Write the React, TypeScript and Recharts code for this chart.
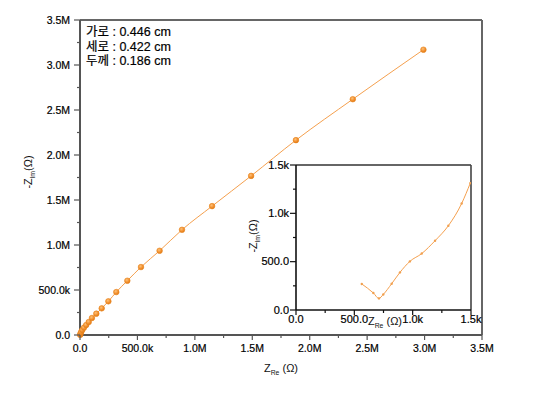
import React from 'react';
import { LineChart, Line, XAxis, YAxis, ReferenceLine } from 'recharts';

// main Nyquist data (Ω)
const mainRe = [1500, 4000, 10000, 20000, 35000, 54000, 76000, 104000, 142000, 189000, 247000, 316000, 412000, 531000, 693000, 888000, 1150000, 1490000, 1880000, 2375000, 2990000];
const mainIm = [1300, 15000, 34000, 56000, 82000, 111000, 144000, 189000, 237000, 296000, 374000, 477000, 603000, 755000, 936000, 1169000, 1432000, 1768000, 2165000, 2620000, 3170000];

// inset (low impedance region)
const insetRe = [564, 663, 711, 748, 820, 891, 976, 1078, 1192, 1306, 1420, 1494];
const insetIm = [269, 176, 120, 161, 272, 389, 503, 584, 717, 872, 1102, 1313];

const mainMajor = [0, 500000, 1000000, 1500000, 2000000, 2500000, 3000000, 3500000];
const mainMajorLabels = ['0.0', '500.0k', '1.0M', '1.5M', '2.0M', '2.5M', '3.0M', '3.5M'];
const mainMinor = [250000, 750000, 1250000, 1750000, 2250000, 2750000, 3250000];

const insetMajor = [0, 500, 1000, 1500];
const insetMajorLabels = ['0.0', '500.0', '1.0k', '1.5k'];
const insetMinor = [250, 750, 1250];

const notes = ['가로 : 0.446 cm', '세로 : 0.422 cm', '두께 : 0.186 cm'];

const mainData = mainRe.map((x, i) => ({ x, y: mainIm[i] }));
const insetData = insetRe.map((x, i) => ({ x, y: insetIm[i] }));

const FONT = '"Liberation Sans", Arial, sans-serif';
const ORANGE = '#F5A04E';

const makeXTick = (majors: number[], labels: string[], color: string, fontSize: number, gap: number) =>
  (props: any) => {
    const { x, y, payload } = props;
    const idx = majors.indexOf(payload.value);
    const major = idx >= 0;
    return (
      <g>
        <line x1={x} y1={y} x2={x} y2={y + (major ? 5 : 3)} stroke={color} strokeWidth={1.2} />
        {major && (
          <text x={x} y={y + gap} textAnchor="middle" fontSize={fontSize} fontFamily={FONT} fill="#000" stroke="#000" strokeWidth={0.2}>
            {labels[idx]}
          </text>
        )}
      </g>
    );
  };

const makeYTick = (majors: number[], labels: string[], color: string, fontSize: number, gap: number) =>
  (props: any) => {
    const { x, y, payload } = props;
    const idx = majors.indexOf(payload.value);
    const major = idx >= 0;
    return (
      <g>
        <line x1={x} y1={y} x2={x - (major ? 6 : 3)} y2={y} stroke={color} strokeWidth={1.2} />
        {major && (
          <text x={x - gap} y={y + 3.6} textAnchor="end" fontSize={fontSize} fontFamily={FONT} fill="#000" stroke="#000" strokeWidth={0.2}>
            {labels[idx]}
          </text>
        )}
      </g>
    );
  };

const AxisTitle = ({ main, sub, tail, left, top, rotate, size }: any) => (
  <div
    style={{
      position: 'absolute',
      left,
      top,
      transform: `translate(-50%, -50%)${rotate ? ' rotate(-90deg)' : ''}`,
      whiteSpace: 'nowrap',
      fontFamily: FONT,
      fontSize: size,
      color: '#111',
      lineHeight: 1,
    }}
  >
    {main}
    <sub style={{ fontSize: size * 0.62 }}>{sub}</sub>
    {tail}
  </div>
);

export default function App() {
  return (
    <div style={{ position: 'absolute', left: 0, top: 0, width: 533, height: 396, background: '#fff' }}>
      <svg width={0} height={0} style={{ position: 'absolute' }}>
        <defs>
          <radialGradient id="ball" cx="40%" cy="35%" r="65%">
            <stop offset="0%" stopColor="#FCC27A" />
            <stop offset="60%" stopColor="#F39130" />
            <stop offset="100%" stopColor="#E07A14" />
          </radialGradient>
        </defs>
      </svg>
      <LineChart width={533} height={396} data={mainData} margin={{ top: 20, right: 51, left: 0, bottom: 0 }}>
        <XAxis
          type="number"
          dataKey="x"
          domain={[0, 3500000]}
          ticks={[...mainMajor, ...mainMinor].sort((a, b) => a - b)}
          height={61}
          tickSize={0}
          tickMargin={0}
          tickLine={false}
          axisLine={{ stroke: '#555', strokeWidth: 2 }}
          tick={makeXTick(mainMajor, mainMajorLabels, '#555', 10.5, 17)}
          interval={0}
        />
        <YAxis
          type="number"
          dataKey="y"
          domain={[0, 3500000]}
          ticks={[...mainMajor, ...mainMinor].sort((a, b) => a - b)}
          width={80}
          tickSize={0}
          tickMargin={0}
          tickLine={false}
          axisLine={{ stroke: '#555', strokeWidth: 2 }}
          tick={makeYTick(mainMajor, mainMajorLabels, '#555', 10.5, 10)}
          interval={0}
        />
        <ReferenceLine y={3500000} stroke="#666" strokeWidth={2} />
        <ReferenceLine x={3500000} stroke="#666" strokeWidth={2} />
        <Line
          type="monotone"
          dataKey="y"
          stroke={ORANGE}
          strokeWidth={1}
          dot={{ r: 2.8, fill: 'url(#ball)', stroke: '#E8841E', strokeWidth: 0.6 }}
          isAnimationActive={false}
        />
      </LineChart>

      <div style={{ position: 'absolute', left: 240, top: 155 }}>
        <LineChart width={250} height={185} data={insetData} margin={{ top: 10, right: 19, left: 0, bottom: 0 }}>
          <XAxis
            type="number"
            dataKey="x"
            domain={[0, 1500]}
            allowDataOverflow
            ticks={[...insetMajor, ...insetMinor].sort((a, b) => a - b)}
            height={30}
            tickSize={0}
            tickMargin={0}
            tickLine={false}
            axisLine={{ stroke: '#111', strokeWidth: 1.6 }}
            tick={makeXTick(insetMajor, insetMajorLabels, '#111', 11, 13)}
            interval={0}
          />
          <YAxis
            type="number"
            dataKey="y"
            domain={[0, 1500]}
            allowDataOverflow
            ticks={[...insetMajor, ...insetMinor].sort((a, b) => a - b)}
            width={56}
            tickSize={0}
            tickMargin={0}
            tickLine={false}
            axisLine={{ stroke: '#111', strokeWidth: 1.6 }}
            tick={makeYTick(insetMajor, insetMajorLabels, '#111', 11, 7)}
            interval={0}
          />
          <ReferenceLine y={1500} stroke="#666" strokeWidth={2} />
          <ReferenceLine x={1500} stroke="#444" strokeWidth={1.6} />
          <Line
            type="monotone"
            dataKey="y"
            stroke={ORANGE}
            strokeWidth={1}
            dot={{ r: 1.2, fill: '#F0A050', stroke: 'none' }}
            isAnimationActive={false}
          />
        </LineChart>
      </div>

      <div
        style={{
          position: 'absolute',
          left: 86,
          top: 25,
          fontFamily: '"Liberation Sans", Arial, "Noto Sans CJK KR", sans-serif',
          fontSize: 12.5,
          lineHeight: '14.5px',
          color: '#000',
          WebkitTextStroke: '0.2px #000',
        }}
      >
        {notes.map((n) => (
          <div key={n}>{n}</div>
        ))}
      </div>

      <AxisTitle main="Z" sub="Re" tail=" (Ω)" left={281} top={370} size={11} />
      <AxisTitle main="-Z" sub="lm" tail="(Ω)" left={30} top={172} rotate size={11} />
      <AxisTitle main="-Z" sub="lm" tail="(Ω)" left={255} top={236} rotate size={11} />
      <AxisTitle main="Z" sub="Re" tail=" (Ω)" left={385} top={323} size={11} />
    </div>
  );
}
